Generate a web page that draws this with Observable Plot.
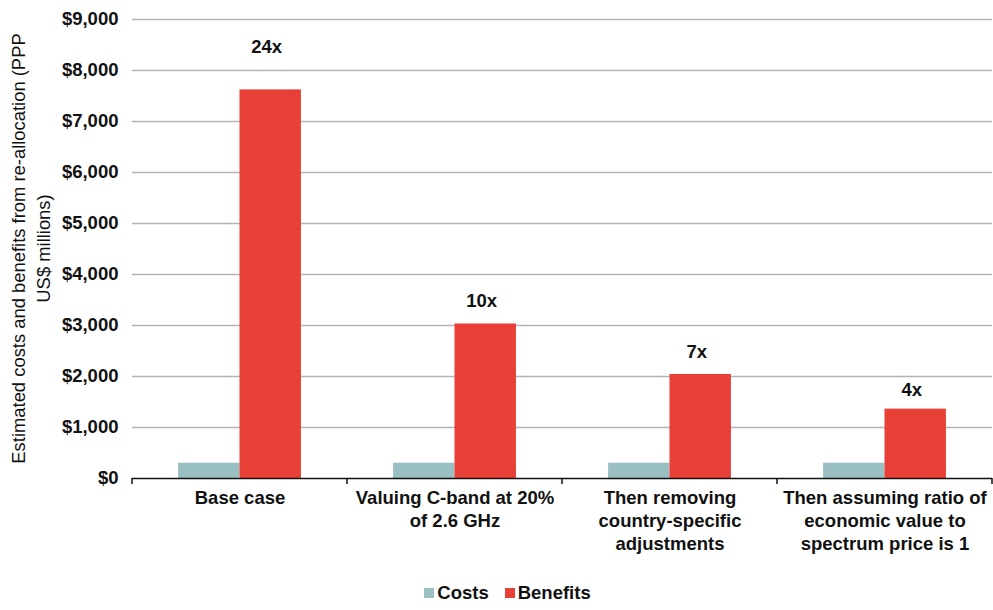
<!DOCTYPE html>
<html>
<head>
<meta charset="utf-8">
<script src="https://cdn.jsdelivr.net/npm/d3@7"></script>
<script src="https://cdn.jsdelivr.net/npm/@observablehq/plot@0.6"></script>
<style>
  html, body { margin: 0; padding: 0; background: #fff; }
  body { width: 993px; height: 610px; overflow: hidden; font-family: "Liberation Sans", Arial, sans-serif; }
  #chart svg text { font-family: "Liberation Sans", Arial, sans-serif; }
  #chart svg g[aria-label="y-axis tick label"] text, #chart svg g[aria-label="y-axis"] text { font-size: 18.5px; font-weight: bold; }
  #legend { height: 35px; display: flex; justify-content: center; align-items: center; gap: 16px; font-weight: bold; font-size: 18.5px; color: #111; margin-left: 22px; }
  #legend span.sw { display: inline-block; width: 10px; height: 10px; margin-right: 3px; vertical-align: middle; position: relative; top: -1px; }
</style>
</head>
<body>
<div id="chart"></div>
<div id="legend"></div>
<script>
const categories = [
  "Base case",
  "Valuing C-band at 20%\nof 2.6 GHz",
  "Then removing\ncountry-specific\nadjustments",
  "Then assuming ratio of\neconomic value to\nspectrum price is 1"
];
const series = ["Costs", "Benefits"];
const costs = [300, 300, 300, 300];
const benefits = [7620, 3030, 2040, 1360];
const multiples = ["24x", "10x", "7x", "4x"];
const multipleLabelY = [8450, 3480, 2480, 1730];
const colors = ["#9BC0C3", "#E83F36"];

const rows = [];
categories.forEach((c, i) => {
  rows.push({category: c, series: "Costs", value: costs[i]});
  rows.push({category: c, series: "Benefits", value: benefits[i]});
});
const labels = categories.map((c, i) => ({category: c, label: multiples[i], y: multipleLabelY[i]}));

const W = 993, H = 575;
const plot = Plot.plot({
  width: W,
  height: H,
  marginTop: 19,
  marginBottom: 97,
  marginLeft: 132,
  marginRight: 1,
  style: {fontFamily: "'Liberation Sans', Arial, sans-serif", fontSize: "18.5px", fontWeight: "bold", color: "#111"},
  fx: {domain: categories, padding: 0, round: false, axis: null, label: null},
  x: {domain: series, paddingInner: 0, paddingOuter: 0.75, round: false, axis: null, label: null},
  y: {domain: [0, 9000], ticks: 9, tickFormat: d => "$" + d3.format(",")(d), tickSize: 0, tickPadding: 14, label: null},
  color: {domain: series, range: colors},
  marks: [
    Plot.ruleY([1000, 2000, 3000, 4000, 5000, 6000, 7000, 8000, 9000], {stroke: "#b3b3b3", strokeWidth: 1.5}),
    Plot.barY(rows, {fx: "category", x: "series", y: "value", fill: "series"}),
    Plot.ruleY([0], {stroke: "#111", strokeWidth: 1.5}),
    Plot.text(labels, {fx: "category", x: () => "Benefits", y: "y", text: "label", fontSize: 18.5, fontWeight: "bold", fill: "#111", dx: -4}),
    Plot.text(categories, {fx: d => d, text: d => d, frameAnchor: "bottom", lineAnchor: "top", dy: 9, fontSize: 18.5, fontWeight: "bold", lineHeight: 1.25, fill: "#111"})
  ]
});
document.getElementById("chart").appendChild(plot);

// category boundary ticks below the axis, from the fx scale
const fx = plot.scale("fx");
const svg = d3.select(plot.tagName.toLowerCase() === "svg" ? plot : plot.querySelector("svg"));
svg.selectAll("text").filter(function() { return /^\$/.test(this.textContent); })
  .style("font-size", "18.5px").style("font-weight", "bold");
const r0 = fx.range[0], r1 = fx.range[1];
const step = (r1 - r0) / fx.domain.length;
const yScale = plot.scale("y");
const y0 = yScale.range[0];
d3.range(fx.domain.length + 1).forEach(i => {
  const x = r0 + i * step;
  svg.append("line").attr("x1", x).attr("x2", x).attr("y1", y0).attr("y2", y0 + 6)
    .attr("stroke", "#111").attr("stroke-width", 1.5);
});

// y-axis title (two lines, rotated)
const cy = (yScale.range[0] + yScale.range[1]) / 2;
const title = svg.append("text")
  .attr("transform", `translate(25,${cy}) rotate(-90)`)
  .attr("text-anchor", "middle")
  .style("font-weight", "normal")
  .style("font-size", "18.4px")
  .attr("fill", "#111");
title.append("tspan").attr("x", 0).attr("dy", 0).text("Estimated costs and benefits from re-allocation (PPP");
title.append("tspan").attr("x", 0).attr("dy", 25).text("US$ millions)");

// legend
const legend = d3.select("#legend");
series.forEach((s, i) => {
  const item = legend.append("div");
  item.append("span").attr("class", "sw").style("background", colors[i]);
  item.append("span").text(s);
});
</script>
</body>
</html>
